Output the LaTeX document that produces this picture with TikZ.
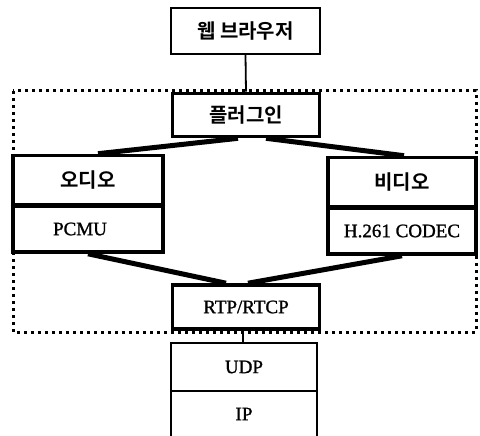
\documentclass[tikz,border=0pt]{standalone}
\usepackage{fontspec}
\setmainfont{Liberation Serif}
\newfontfamily\lat{Liberation Serif}[FakeBold=1.2]
\newfontfamily\kor{Noto Sans CJK KR}[BoldFont={* Bold}]
\begin{document}
\begin{tikzpicture}[x=1pt,y=-1pt,
  thinbox/.style={draw,line width=1.8pt,fill=white,inner sep=0pt},
  thickbox/.style={draw,line width=3.6pt,fill=white,inner sep=0pt},
  kt/.style={font=\kor\bfseries\fontsize{20}{22}\selectfont},
  lt/.style={font=\lat\fontsize{19}{21}\selectfont},
  thinline/.style={line width=1.8pt},
  thickline/.style={line width=5pt},
  frame/.style={line width=3pt,dash pattern=on 3pt off 4pt}]
\useasboundingbox (0,0) rectangle (480,436);
% dotted frame
\draw[frame] (13,91) rectangle (476,332);
% nodes
\node[thinbox,kt,minimum width=149pt,minimum height=46pt] (web) at (245.5,31) {웹 브라우저};
\node[thickbox,kt,minimum width=147pt,minimum height=43pt] (plug) at (246,115) {플러그인};
\node[thickbox,kt,minimum width=150pt,minimum height=49pt] (audio) at (88,180) {오디오};
\node[thickbox,lt,minimum width=150pt,minimum height=46pt] (pcmu) at (88,229) {\hspace*{-16pt}PCMU};
\node[thickbox,kt,minimum width=148pt,minimum height=49pt] (video) at (402,182) {비디오};
\node[thickbox,lt,minimum width=148pt,minimum height=46pt] (h261) at (402,231) {H.261 CODEC};
\node[thickbox,lt,minimum width=147pt,minimum height=44pt] (rtp) at (246,307) {RTP/RTCP};
\node[thinbox,lt,minimum width=146pt,minimum height=48pt] (udp) at (244,367) {UDP};
\node[lt,inner sep=0pt,minimum width=146pt,minimum height=46pt] (ip) at (244,414) {IP};
\draw[thinline] (ip.south west) -- (ip.north west) -- (ip.north east) -- (ip.south east);
% connectors
\draw[thinline] (web.south) -- (plug.north);
\draw[thickline] ([xshift=-8pt]plug.south) -- ([xshift=10pt]audio.north);
\draw[thickline] ([xshift=20pt]plug.south) -- ([xshift=2pt]video.north);
\draw[thickline] (pcmu.south) -- ([xshift=-20pt]rtp.north);
\draw[thickline] (h261.south) -- ([xshift=2pt]rtp.north);
\draw[thinline] ([xshift=-3pt]rtp.south) -- ([xshift=-3pt]rtp.south |- udp.north);
\end{tikzpicture}
\end{document}
